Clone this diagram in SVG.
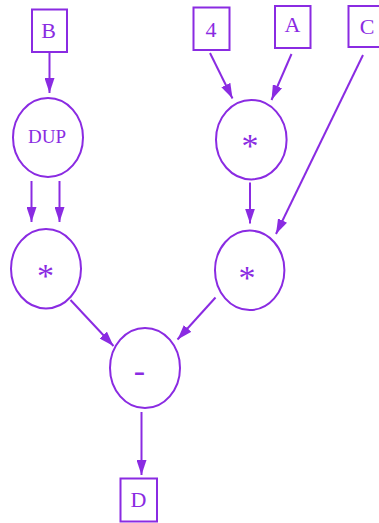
<svg xmlns="http://www.w3.org/2000/svg" width="379" height="523" viewBox="0 0 379 523">
  <style>
    .box { fill: #ffffff; stroke: #8a2be2; stroke-width: 2; }
    .op { fill: #ffffff; stroke: #8a2be2; stroke-width: 2; }
    .lbl { fill: #8a2be2; font-family: "Liberation Serif", "Times New Roman", serif; font-size: 22px; text-anchor: middle; }
    .sym { font-size: 34px; }
    .small { font-size: 19px; }
    .edge { stroke: #8a2be2; stroke-width: 2; fill: none; marker-end: url(#arrow); }
  </style>
  <defs>
    <marker id="arrow" viewBox="0 0 15 10" refX="15" refY="5" markerWidth="15" markerHeight="10" markerUnits="userSpaceOnUse" orient="auto">
      <path d="M0,0 L15,5 L0,10 Z" fill="#8a2be2"/>
    </marker>
  </defs>
  <rect width="379" height="523" fill="#ffffff"/>

  <g id="edges">
    <line class="edge" x1="49.5" y1="52" x2="49.5" y2="93"/>
    <line class="edge" x1="31.5" y1="181" x2="31.5" y2="222"/>
    <line class="edge" x1="59.5" y1="181" x2="59.5" y2="222"/>
    <line class="edge" x1="210" y1="53" x2="232.5" y2="98.5"/>
    <line class="edge" x1="291.5" y1="54" x2="271.5" y2="100"/>
    <line class="edge" x1="363" y1="55" x2="276" y2="234"/>
    <line class="edge" x1="250" y1="182.5" x2="250" y2="223.5"/>
    <line class="edge" x1="70.5" y1="300" x2="113.5" y2="346"/>
    <line class="edge" x1="215.5" y1="297.5" x2="177.5" y2="339.5"/>
    <line class="edge" x1="141.5" y1="412" x2="141.5" y2="475"/>
  </g>

  <g id="B">
    <rect class="box" x="32" y="9.5" width="35" height="42.5"/>
    <text class="lbl" x="48.5" y="37.5">B</text>
  </g>
  <g id="four">
    <rect class="box" x="193.5" y="7.5" width="36" height="42.5"/>
    <text class="lbl" x="211" y="37">4</text>
  </g>
  <g id="A">
    <rect class="box" x="275" y="6" width="35.5" height="42"/>
    <text class="lbl" x="292.5" y="32">A</text>
  </g>
  <g id="C">
    <rect class="box" x="348.5" y="6" width="36" height="41"/>
    <text class="lbl" x="367" y="33.5">C</text>
  </g>
  <g id="DUP">
    <ellipse class="op" cx="48" cy="137.5" rx="35" ry="39.5"/>
    <text class="lbl small" x="47" y="143">DUP</text>
  </g>
  <g id="mul1">
    <ellipse class="op" cx="251.3" cy="139.7" rx="35.3" ry="39.7"/>
    <text class="lbl sym" x="250" y="157">*</text>
  </g>
  <g id="mul2">
    <ellipse class="op" cx="46" cy="268.7" rx="35" ry="39.7"/>
    <text class="lbl sym" x="45.5" y="286.5">*</text>
  </g>
  <g id="mul3">
    <ellipse class="op" cx="249.7" cy="270.3" rx="34.7" ry="39.7"/>
    <text class="lbl sym" x="247" y="289">*</text>
  </g>
  <g id="minus">
    <ellipse class="op" cx="145" cy="368" rx="35" ry="40"/>
    <text class="lbl sym" x="139.5" y="382">-</text>
  </g>
  <g id="D">
    <rect class="box" x="120.5" y="478.5" width="36.5" height="43"/>
    <text class="lbl" x="138.5" y="506.5">D</text>
  </g>
</svg>
